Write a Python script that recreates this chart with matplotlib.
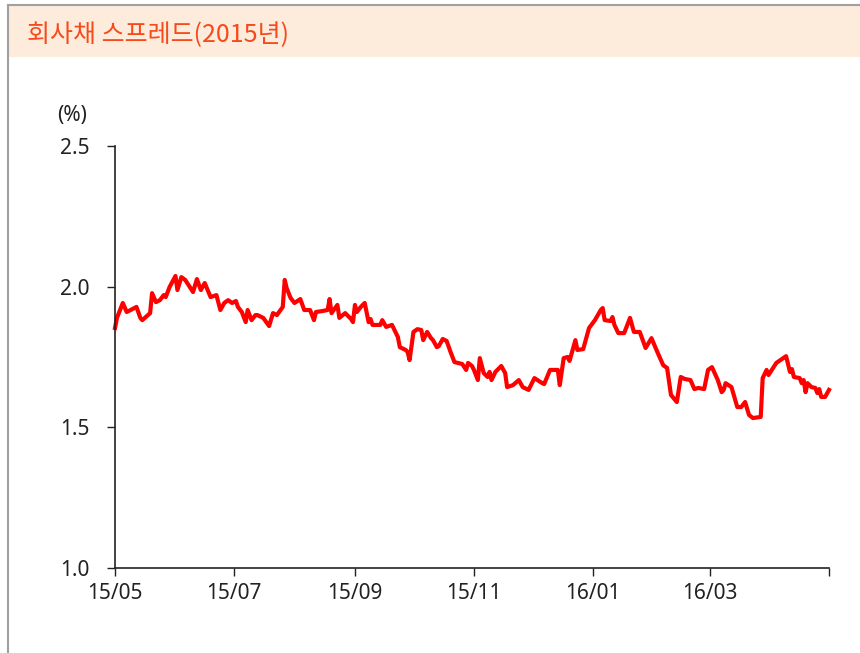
import matplotlib
matplotlib.use("Agg")
import matplotlib.pyplot as plt
import matplotlib.dates as mdates
import numpy as np
from matplotlib.patches import Rectangle
from matplotlib.lines import Line2D

# corporate bond spread (%)
dates = [
    "2015-05-01", "2015-05-02", "2015-05-05", "2015-05-07", "2015-05-09", "2015-05-12",
    "2015-05-14", "2015-05-15", "2015-05-19", "2015-05-20", "2015-05-22", "2015-05-24",
    "2015-05-26", "2015-05-27", "2015-05-29", "2015-06-01", "2015-06-02", "2015-06-04",
    "2015-06-06", "2015-06-10", "2015-06-12", "2015-06-14", "2015-06-16", "2015-06-19",
    "2015-06-22", "2015-06-24", "2015-06-26", "2015-06-28", "2015-06-30", "2015-07-02",
    "2015-07-03", "2015-07-05", "2015-07-07", "2015-07-08", "2015-07-10", "2015-07-12",
    "2015-07-13", "2015-07-16", "2015-07-19", "2015-07-21", "2015-07-23", "2015-07-26",
    "2015-07-27", "2015-07-28", "2015-07-30", "2015-08-01", "2015-08-04", "2015-08-06",
    "2015-08-09", "2015-08-11", "2015-08-12", "2015-08-15", "2015-08-18", "2015-08-19",
    "2015-08-20", "2015-08-23", "2015-08-24", "2015-08-27", "2015-08-30", "2015-08-31",
    "2015-09-01", "2015-09-02", "2015-09-04", "2015-09-06", "2015-09-08", "2015-09-09",
    "2015-09-10", "2015-09-14", "2015-09-15", "2015-09-17", "2015-09-20", "2015-09-23",
    "2015-09-24", "2015-09-27", "2015-09-28", "2015-09-29", "2015-10-01", "2015-10-03",
    "2015-10-05", "2015-10-06", "2015-10-08", "2015-10-10", "2015-10-11", "2015-10-13",
    "2015-10-14", "2015-10-16", "2015-10-18", "2015-10-20", "2015-10-22", "2015-10-26",
    "2015-10-28", "2015-10-29", "2015-10-31", "2015-11-01", "2015-11-03", "2015-11-04",
    "2015-11-06", "2015-11-08", "2015-11-09", "2015-11-10", "2015-11-12", "2015-11-15",
    "2015-11-17", "2015-11-18", "2015-11-21", "2015-11-24", "2015-11-26", "2015-11-29",
    "2015-12-02", "2015-12-06", "2015-12-07", "2015-12-10", "2015-12-14", "2015-12-15",
    "2015-12-17", "2015-12-19", "2015-12-20", "2015-12-23", "2015-12-24", "2015-12-27",
    "2015-12-30", "2016-01-02", "2016-01-05", "2016-01-06", "2016-01-07", "2016-01-10",
    "2016-01-11", "2016-01-12", "2016-01-14", "2016-01-17", "2016-01-20", "2016-01-22",
    "2016-01-25", "2016-01-28", "2016-01-31", "2016-02-03", "2016-02-06", "2016-02-08",
    "2016-02-10", "2016-02-13", "2016-02-15", "2016-02-17", "2016-02-20", "2016-02-22",
    "2016-02-24", "2016-02-27", "2016-02-29", "2016-03-02", "2016-03-05", "2016-03-07",
    "2016-03-08", "2016-03-09", "2016-03-12", "2016-03-15", "2016-03-17", "2016-03-19",
    "2016-03-21", "2016-03-23", "2016-03-27", "2016-03-28", "2016-03-30", "2016-03-31",
    "2016-04-04", "2016-04-09", "2016-04-11", "2016-04-12", "2016-04-13", "2016-04-16",
    "2016-04-17", "2016-04-18", "2016-04-19", "2016-04-20", "2016-04-22", "2016-04-24",
    "2016-04-25", "2016-04-26", "2016-04-27", "2016-04-29", "2016-05-01",
]
spread = [
    1.853, 1.889, 1.942, 1.910, 1.917, 1.928,
    1.889, 1.881, 1.906, 1.977, 1.945, 1.952,
    1.970, 1.963, 1.999, 2.038, 1.988, 2.034,
    2.024, 1.981, 2.027, 1.988, 2.013, 1.963,
    1.970, 1.917, 1.942, 1.952, 1.942, 1.949,
    1.928, 1.910, 1.874, 1.917, 1.881, 1.899,
    1.899, 1.889, 1.860, 1.906, 1.899, 1.928,
    2.024, 1.995, 1.960, 1.942, 1.956, 1.917,
    1.917, 1.881, 1.910, 1.913, 1.917, 1.956,
    1.906, 1.935, 1.889, 1.906, 1.885, 1.874,
    1.935, 1.910, 1.928, 1.942, 1.874, 1.885,
    1.864, 1.864, 1.881, 1.857, 1.864, 1.821,
    1.785, 1.775, 1.768, 1.739, 1.839, 1.849,
    1.846, 1.810, 1.839, 1.817, 1.810, 1.785,
    1.789, 1.814, 1.807, 1.768, 1.732, 1.725,
    1.704, 1.729, 1.718, 1.704, 1.668, 1.746,
    1.693, 1.679, 1.697, 1.668, 1.697, 1.718,
    1.693, 1.643, 1.650, 1.668, 1.643, 1.633,
    1.675, 1.657, 1.654, 1.704, 1.704, 1.650,
    1.746, 1.750, 1.736, 1.810, 1.775, 1.778,
    1.853, 1.881, 1.917, 1.924, 1.881, 1.878,
    1.892, 1.864, 1.835, 1.835, 1.889, 1.839,
    1.839, 1.782, 1.817, 1.768, 1.721, 1.711,
    1.615, 1.590, 1.679, 1.672, 1.668, 1.636,
    1.640, 1.636, 1.704, 1.714, 1.668, 1.625,
    1.633, 1.657, 1.643, 1.572, 1.572, 1.590,
    1.544, 1.533, 1.537, 1.675, 1.704, 1.686,
    1.729, 1.753, 1.697, 1.707, 1.679, 1.675,
    1.657, 1.668, 1.625, 1.657, 1.643, 1.640,
    1.622, 1.636, 1.608, 1.608, 1.633,
]
tick_dates = ["2015-05-01", "2015-07-01", "2015-09-01", "2015-11-01", "2016-01-01", "2016-03-01", "2016-05-01"]
tick_labels = ["15/05", "15/07", "15/09", "15/11", "16/01", "16/03", ""]
y_ticks = [1.0, 1.5, 2.0, 2.5]
title = "회사채 스프레드(2015년)"

plt.rcParams['font.family'] = ['Noto Sans CJK KR', 'DejaVu Sans']
num_font = 'Noto Sans'

fig = plt.figure(figsize=(8.6, 6.53), dpi=100)
W, H = 860, 653

# title band + frame lines
fig.patches.append(Rectangle((9 / W, 1 - 57 / H), 1 - 9 / W, 51 / H, transform=fig.transFigure,
                             facecolor='#fdebdc', edgecolor='none', zorder=0))
fig.lines.append(Line2D([8 / W, 8 / W], [0, 1 - 5 / H], transform=fig.transFigure, color='#a0a0a0', lw=1.5))
fig.lines.append(Line2D([8 / W, 1], [1 - 5 / H, 1 - 5 / H], transform=fig.transFigure, color='#a0a0a0', lw=1.5))
fig.text(27 / W, 1 - 35 / H, title, fontsize=18, color='#f74a1c', va='center', ha='left')

ax = fig.add_axes([115 / W, 1 - 568 / H, (829 - 115) / W, (568 - 146) / H])
x = mdates.datestr2num(dates)
ax.plot(x, spread, color='#ff0000', lw=3, solid_joinstyle='round', clip_on=False)

ax.set_xlim(mdates.datestr2num("2015-05-01"), mdates.datestr2num("2016-05-01"))
ax.set_ylim(1.0, 2.5)
ax.set_xticks(mdates.datestr2num(tick_dates))
ax.set_xticklabels(tick_labels, fontfamily=num_font, fontsize=15)
ax.set_yticks(y_ticks)
ax.set_yticklabels([f"{v:.1f}" for v in y_ticks], fontfamily=num_font, fontsize=15)

for s in ['top', 'right']:
    ax.spines[s].set_visible(False)
for s in ['left', 'bottom']:
    ax.spines[s].set_color('#222222')
    ax.spines[s].set_linewidth(1.2)
ax.tick_params(axis='both', direction='out', length=6, width=1, colors='#222222')
ax.tick_params(axis='y', pad=12)
ax.tick_params(axis='x', pad=5)

fig.text(57 / W, 1 - 116 / H, "(%)", fontsize=15, fontfamily=num_font, color='#222222', va='center', ha='left')

fig.savefig("out.png", dpi=100)
